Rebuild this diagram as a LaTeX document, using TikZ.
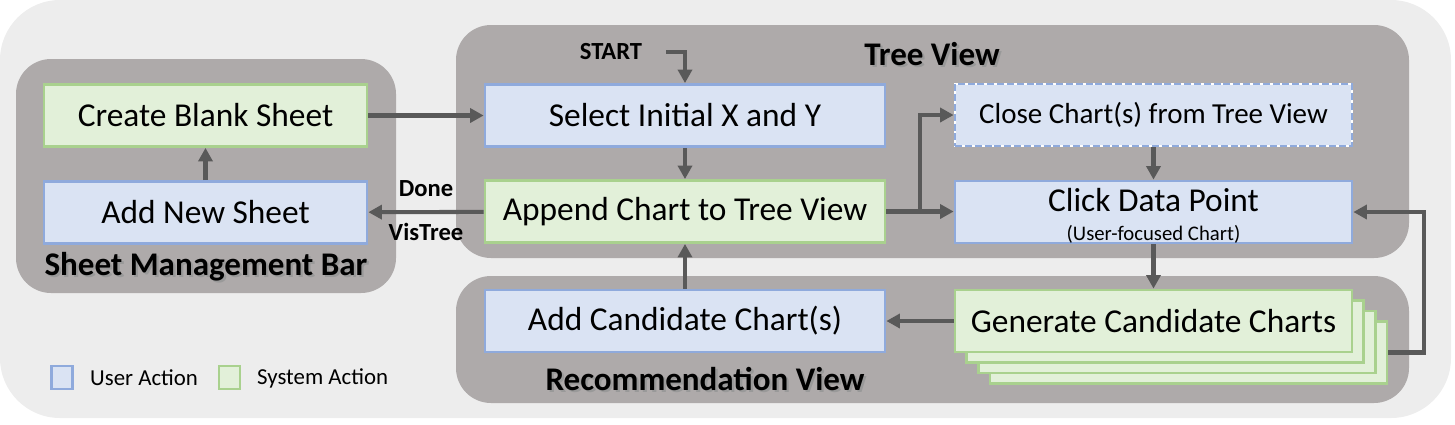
\documentclass[tikz,border=0pt]{standalone}
\usepackage{fontspec}
\setmainfont{Carlito}
\usetikzlibrary{arrows.meta,positioning}

\definecolor{bgGray}{HTML}{EDEDED}
\definecolor{panelGray}{HTML}{AEAAAA}
\definecolor{userFill}{HTML}{DAE3F3}
\definecolor{userLine}{HTML}{8FAADC}
\definecolor{sysFill}{HTML}{E2F0D9}
\definecolor{sysLine}{HTML}{A9D18E}
\definecolor{arrowGray}{HTML}{595959}

% bold panel title with a soft drop shadow
\newcommand{\shadowed}[1]{\rlap{\hspace{1.3pt}\raisebox{-1.3pt}{\textcolor{black!40}{#1}}}#1}

\tikzset{
  action/.style={draw, line width=1.6pt, minimum height=1.24cm, inner sep=2pt,
    font=\fontsize{19}{22}\selectfont},
  user/.style={action, fill=userFill, draw=userLine},
  system/.style={action, fill=sysFill, draw=sysLine},
  panel/.style={fill=panelGray, rounded corners=0.7cm},
  flow/.style={draw=arrowGray, line width=2.3pt, -{Triangle[length=0.27cm,width=0.28cm]}},
  paneltitle/.style={font=\fontsize{18.8}{21}\selectfont\bfseries},
  flowlabel/.style={font=\fontsize{14}{16}\selectfont\bfseries},
  legendbox/.style={draw, line width=1.6pt, minimum width=0.42cm, minimum height=0.46cm, inner sep=0pt},
}

\begin{document}
\begin{tikzpicture}[x=0.02cm, y=-0.02cm]
    \useasboundingbox (0,0) rectangle (1455,424);
    \fill[bgGray, rounded corners=1.2cm] (0,0) rectangle (1451,418);

    % panels
    \fill[panel] (16,59) rectangle (396,293);
    \fill[panel] (456,25) rectangle (1409,258);
    \fill[panel] (456,276) rectangle (1409,403);

    % sheet management bar
    \node[system, minimum width=6.46cm] (create) at (205.5,115.5) {Create Blank Sheet};
    \node[user, minimum width=6.46cm] (addsheet) at (205.5,212.5) {Add New Sheet};
    \node[paneltitle] (sheettitle) at (206,268) {\shadowed{Sheet Management Bar}};

    % tree view
    \node[user, minimum width=8cm] (select) at (685,115.5) {Select Initial X and Y};
    \node[system, minimum width=8cm] (append) at (685,211.5) {Append Chart to Tree View};
    \node[user, minimum width=7.94cm, draw=none,
          postaction={draw=white, line width=1.6pt},
          postaction={draw=userLine, line width=1.6pt, dash pattern=on 4pt off 1.6pt},
          font=\fontsize{16.5}{19}\selectfont] (close) at (1153.5,115) {Close Chart(s) from Tree View};
    \node[user, minimum width=7.94cm, inner ysep=0pt, align=center] (click) at (1153.5,212)
        {\raisebox{0pt}[16pt][\depth]{Click Data Point}\\[-5.5pt]%
         {\fontsize{11.8}{13}\selectfont\raisebox{0pt}[\height][0pt]{(User-focused Chart)}}};
    \node[paneltitle] (treetitle) at (932,55) {\shadowed{Tree View}};
    \node[flowlabel] (start) at (611,52) {START};

    % recommendation view
    \node[user, minimum width=8cm] (addcand) at (685,321) {Add Candidate Chart(s)};
    \node[system, minimum width=7.94cm] (gen3) at (1188.5,352.5) {};
    \node[system, minimum width=7.94cm] (gen2) at (1177,342) {};
    \node[system, minimum width=7.94cm] (gen1) at (1165,331.5) {};
    \node[system, minimum width=7.94cm] (gen) at (1153.5,321) {Generate Candidate Charts};
    \node[paneltitle] (rectitle) at (705,380) {\shadowed{Recommendation View}};

    % legend
    \node[legendbox, fill=userFill, draw=userLine] (leguser) at (62,377.5) {};
    \node[anchor=west, font=\fontsize{13}{15}\selectfont] (legusertext) at (84,378) {User Action};
    \node[legendbox, fill=sysFill, draw=sysLine] (legsys) at (229.5,377.5) {};
    \node[anchor=west, font=\fontsize{13}{15}\selectfont] (legsystext) at (251,378) {System Action};

    % connectors
    \coordinate (fork) at (920,212);
    \draw[flow] (addsheet) -- (create);
    \draw[flow] (create) -- (create -| select.west);
    \draw[flow] ([xshift=0.36cm]start.east) -| (select);
    \draw[flow] (select) -- (append);
    \draw[flow] (append) -- node[flowlabel, above=4pt]{Done} node[flowlabel, below=2pt]{VisTree} (addsheet);
    \draw[flow] (append.east) -- (click.west |- append.east);
    \draw[flow] (fork) |- (close);
    \draw[flow] (close) -- (click);
    \draw[flow] (click) -- (gen);
    \draw[flow] (gen) -- (addcand);
    \draw[flow] (addcand) -- (append);
    \draw[flow] (gen3.east) -- ++(36,0) |- (click.east);
\end{tikzpicture}
\end{document}
